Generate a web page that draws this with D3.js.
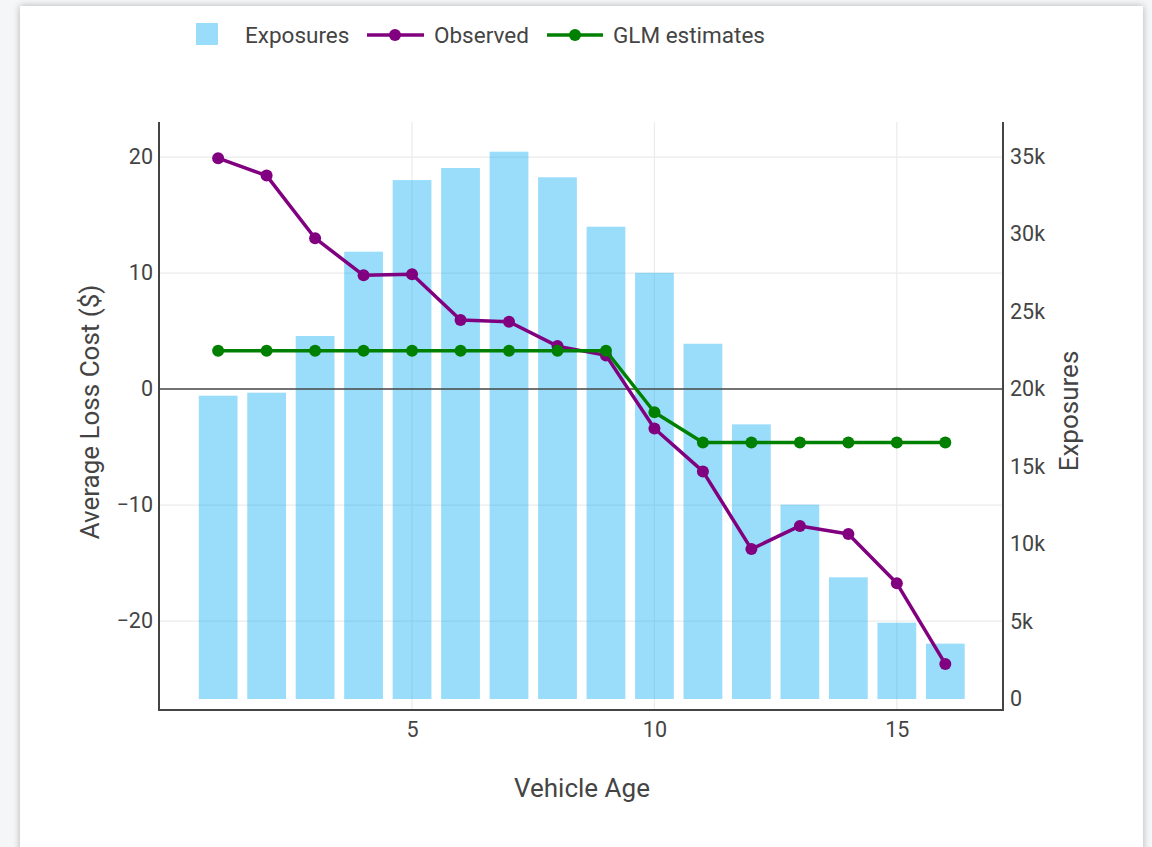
<!DOCTYPE html>
<html>
<head>
<meta charset="utf-8">
<script src="https://cdn.jsdelivr.net/npm/d3@7"></script>
<style>
  html, body { margin: 0; padding: 0; width: 1152px; height: 847px; overflow: hidden; background: #f5f6f8; }
  #card { position: absolute; left: 20px; top: 6px; width: 1123px; height: 900px; background: #fff;
          box-shadow: 0 0 7px rgba(0,0,0,0.28); }
  svg { position: absolute; left: 0; top: 0; }
  text { font-family: Roboto, "Noto Sans", sans-serif; fill: #444; }
</style>
</head>
<body>
<div id="card"></div>
<svg id="chart" width="1152" height="847"></svg>
<script>
// ---- data ----
const vehicleAge = [1,2,3,4,5,6,7,8,9,10,11,12,13,14,15,16];
const exposures  = [19570,19760,23420,28860,33480,34260,35310,33660,30470,27500,22920,17720,12540,7850,4920,3570];
const observed   = [19.9,18.4,13.0,9.8,9.9,5.95,5.8,3.7,2.9,-3.4,-7.1,-13.8,-11.8,-12.5,-16.75,-23.7];
const glmEstimates = [3.3,3.3,3.3,3.3,3.3,3.3,3.3,3.3,3.3,-2.0,-4.6,-4.6,-4.6,-4.6,-4.6,-4.6];
const xTicks = [5,10,15];
const leftTicks = [-20,-10,0,10,20];
const rightTicks = [0,5000,10000,15000,20000,25000,30000,35000];
const rightTickLabels = ["0","5k","10k","15k","20k","25k","30k","35k"];
const seriesNames = ["Exposures","Observed","GLM estimates"];

// ---- layout ----
const L = 159, R = 1003, T = 122, B = 710;
const barColor = "rgba(3,169,244,0.4)";
const purple = "#800080", green = "#008000";

const svg = d3.select("#chart");
const x = d3.scaleLinear().domain([-0.22, 17.19]).range([L, R]);
const yL = d3.scaleLinear().domain([-27.67, 23.02]).range([B, T]);
const yR = d3.scaleLinear().domain([-710, 37226]).range([B, T]);

// grid
const grid = svg.append("g");
grid.selectAll("line.h").data(leftTicks.filter(d => d !== 0)).join("line")
  .attr("x1", L).attr("x2", R).attr("y1", d => yL(d)).attr("y2", d => yL(d))
  .attr("stroke", "#ebebeb").attr("stroke-width", 1.2);
grid.selectAll("line.v").data(xTicks).join("line")
  .attr("x1", d => x(d)).attr("x2", d => x(d)).attr("y1", T).attr("y2", B)
  .attr("stroke", "#ebebeb").attr("stroke-width", 1.2);

// bars
svg.append("g").selectAll("rect").data(vehicleAge).join("rect")
  .attr("x", (d) => x(d - 0.4))
  .attr("width", (d) => x(d + 0.4) - x(d - 0.4))
  .attr("y", (d, i) => yR(exposures[i]))
  .attr("height", (d, i) => yR(0) - yR(exposures[i]))
  .attr("fill", barColor);

// zero line
svg.append("line").attr("x1", L).attr("x2", R).attr("y1", yL(0)).attr("y2", yL(0))
  .attr("stroke", "#444").attr("stroke-width", 1.5);

// lines
function drawSeries(vals, color) {
  const line = d3.line().x((d, i) => x(vehicleAge[i])).y(d => yL(d));
  const g = svg.append("g");
  g.append("path").datum(vals).attr("d", line).attr("fill", "none")
    .attr("stroke", color).attr("stroke-width", 3.5).attr("stroke-linejoin", "round");
  g.selectAll("circle").data(vals).join("circle")
    .attr("cx", (d, i) => x(vehicleAge[i])).attr("cy", d => yL(d)).attr("r", 6)
    .attr("fill", color);
}
drawSeries(observed, purple);
drawSeries(glmEstimates, green);

// axis lines
const ax = svg.append("g").attr("stroke", "#444").attr("stroke-width", 2).attr("fill", "none");
ax.append("path").attr("d", `M${L},${T}V${B}H${R}V${T}`);

// axes via d3
const xAxis = svg.append("g").attr("transform", `translate(0,${B})`)
  .call(d3.axisBottom(x).tickValues(xTicks).tickSize(0).tickPadding(12));
const yAxisL = svg.append("g").attr("transform", `translate(${L},0)`)
  .call(d3.axisLeft(yL).tickValues(leftTicks).tickSize(0).tickPadding(6)
        .tickFormat(d => d < 0 ? "\u2212" + Math.abs(d) : String(d)));
const yAxisR = svg.append("g").attr("transform", `translate(${R},0)`)
  .call(d3.axisRight(yR).tickValues(rightTicks).tickSize(0).tickPadding(7)
        .tickFormat((d, i) => rightTickLabels[i]));
[xAxis, yAxisL, yAxisR].forEach(g => {
  g.select(".domain").remove();
  g.selectAll("text").attr("font-size", 21.5).attr("fill", "#444")
    .attr("font-family", "Roboto, sans-serif");
});

// titles
svg.append("text").attr("x", 582).attr("y", 797).attr("text-anchor", "middle")
  .attr("font-size", 26).text("Vehicle Age");
svg.append("text").attr("transform", "translate(99,412) rotate(-90)").attr("text-anchor", "middle")
  .attr("font-size", 26).text("Average Loss Cost ($)");
svg.append("text").attr("transform", "translate(1078,411) rotate(-90)").attr("text-anchor", "middle")
  .attr("font-size", 26).text("Exposures");

// legend
const lg = svg.append("g");
lg.append("rect").attr("x", 196).attr("y", 23).attr("width", 22).attr("height", 22).attr("fill", barColor);
lg.append("text").attr("x", 245).attr("y", 35).attr("dy", "0.35em").attr("font-size", 22.5).text(seriesNames[0]);
[[367, 424, 395, purple, 434, seriesNames[1]], [547, 603, 575, green, 613, seriesNames[2]]].forEach(([a, b, c, col, tx, name]) => {
  lg.append("line").attr("x1", a).attr("x2", b).attr("y1", 35).attr("y2", 35).attr("stroke", col).attr("stroke-width", 3.5);
  lg.append("circle").attr("cx", c).attr("cy", 35).attr("r", 6).attr("fill", col);
  lg.append("text").attr("x", tx).attr("y", 35).attr("dy", "0.35em").attr("font-size", 22.5).text(name);
});
</script>
</body>
</html>
